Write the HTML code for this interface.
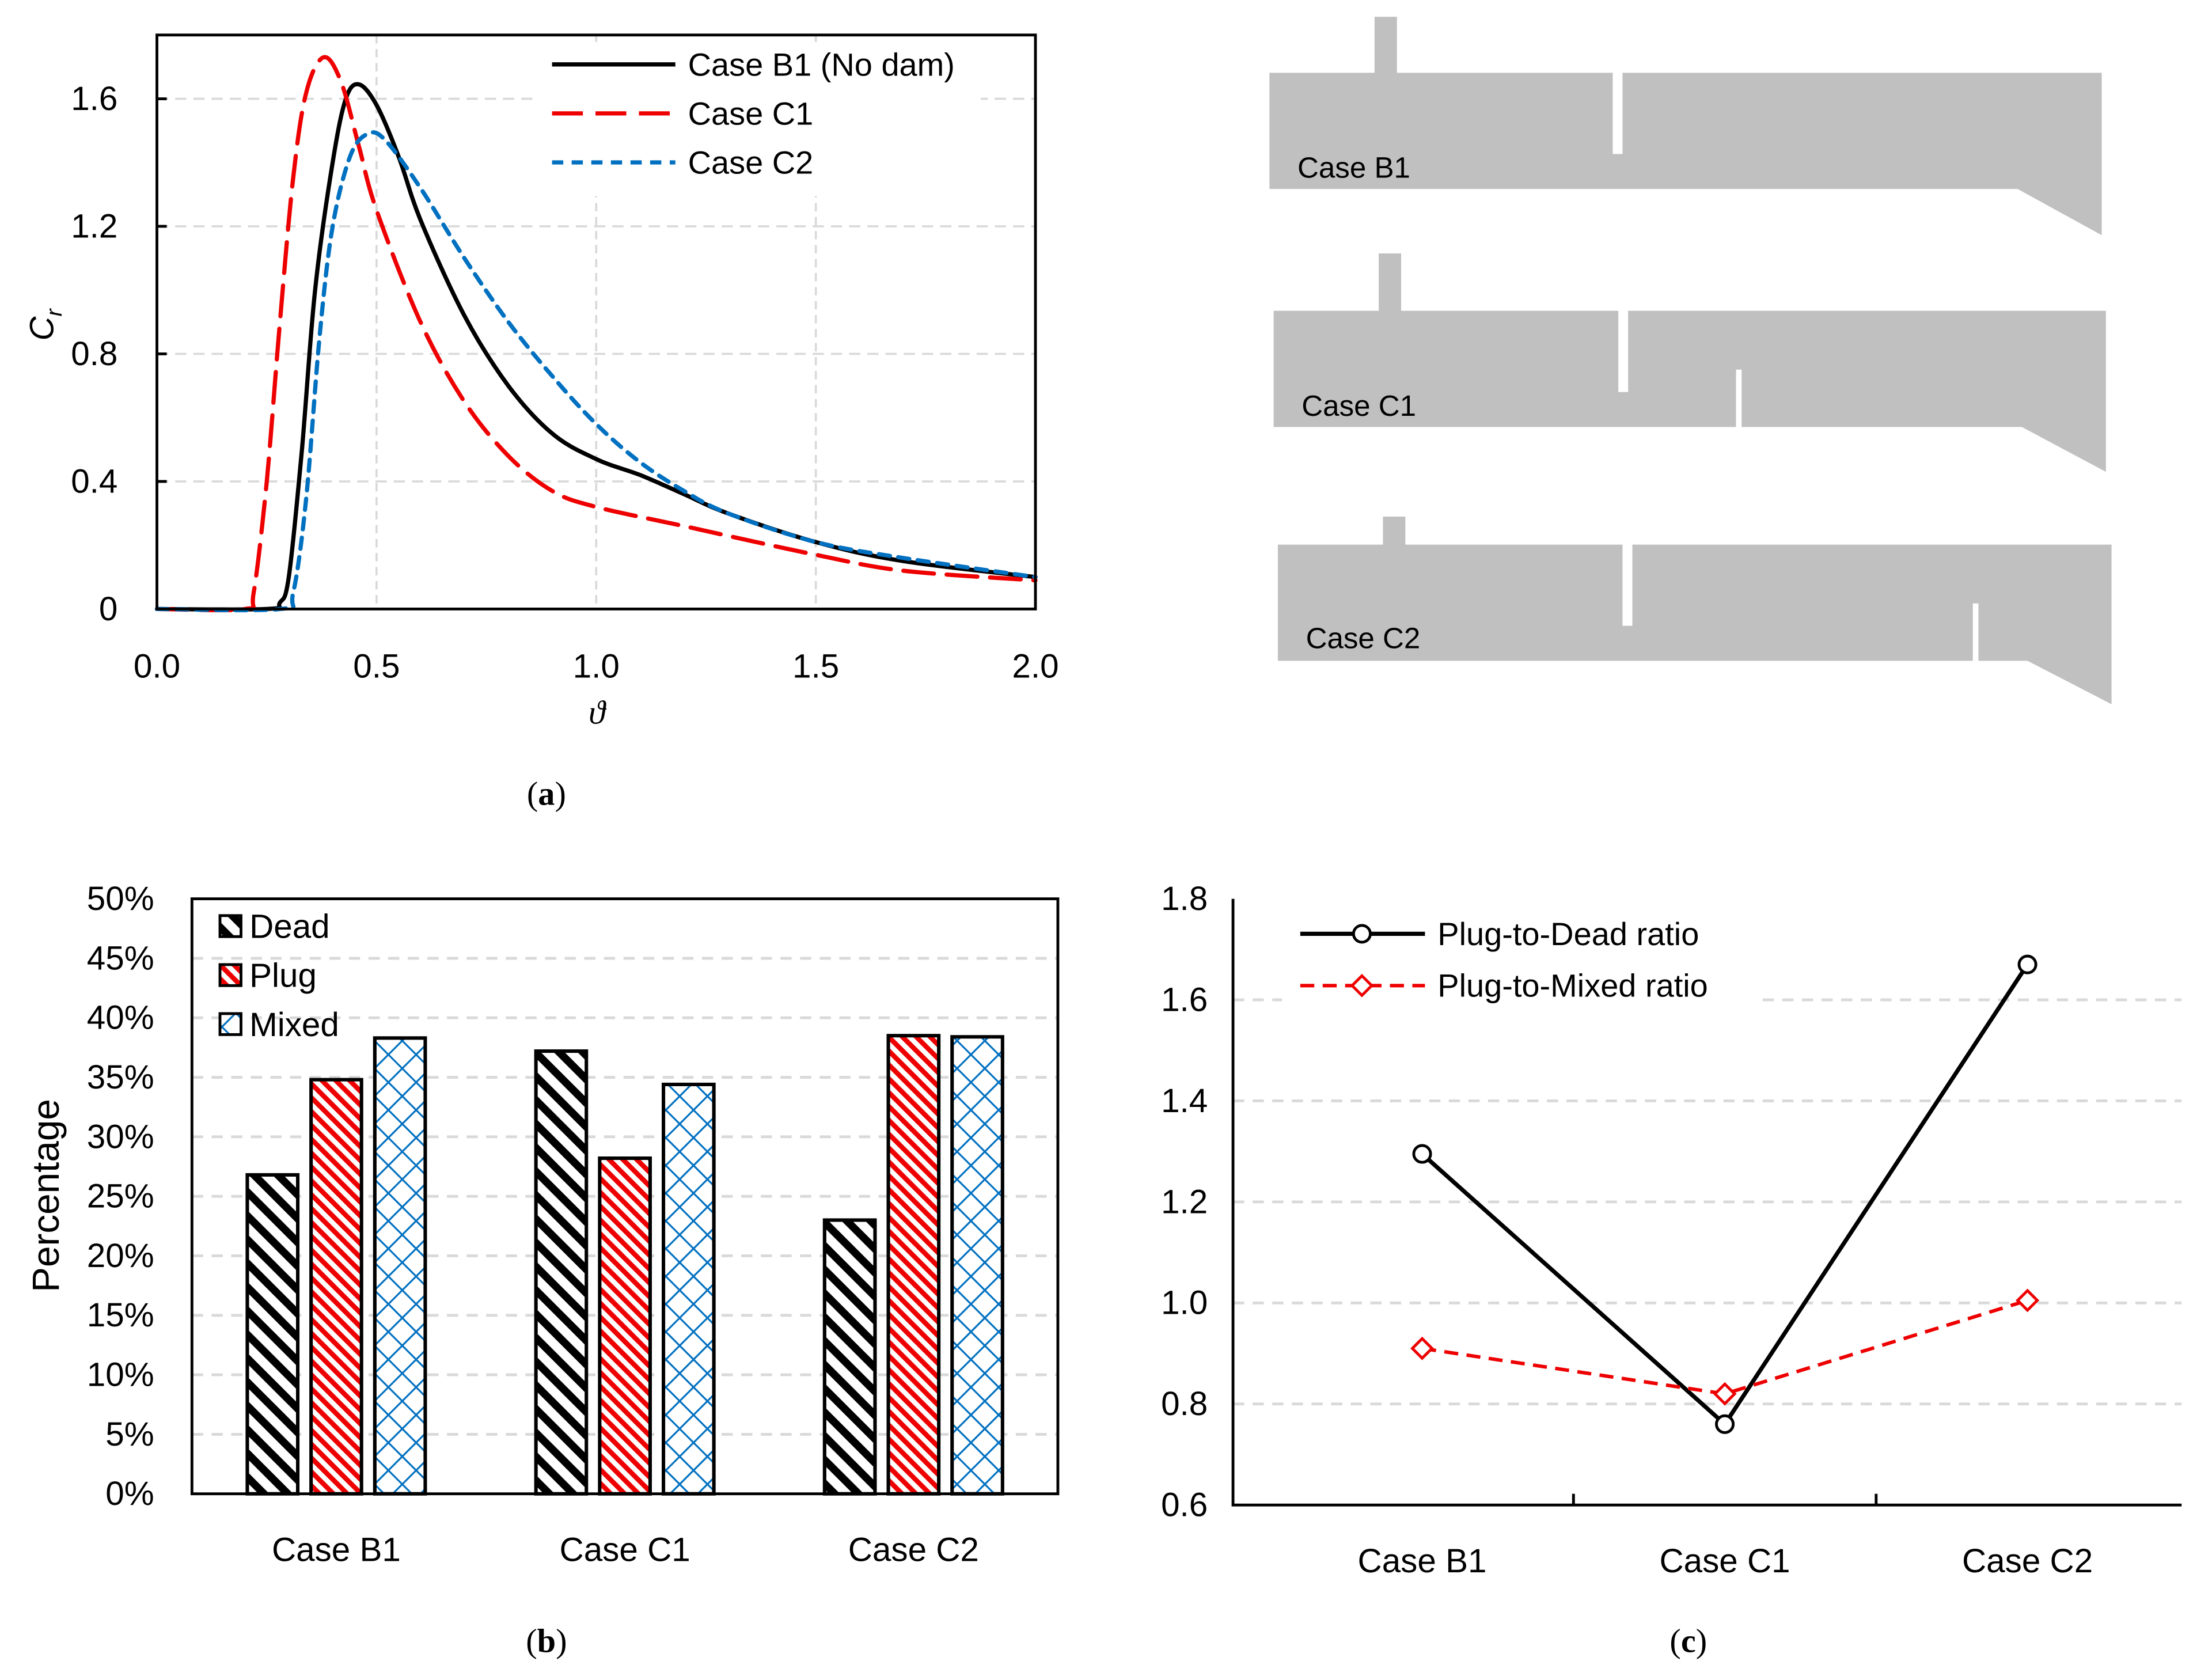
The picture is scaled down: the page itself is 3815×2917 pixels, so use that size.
<!DOCTYPE html>
<html><head><meta charset="utf-8"><style>
html,body{margin:0;padding:0;background:#fff}
svg{display:block}
text{font-family:"Liberation Sans",sans-serif;fill:#000}
.serif{font-family:"Liberation Serif",serif}
</style></head><body>
<svg id="s" width="3815" height="2917" viewBox="0 0 1568 1200" preserveAspectRatio="none">
<defs>
<pattern id="pDead" patternUnits="userSpaceOnUse" width="12" height="12" patternTransform="rotate(-45)"><rect width="12" height="12" fill="#fff"/><rect width="5.5" height="12" fill="#000"/></pattern>
<pattern id="pPlug" patternUnits="userSpaceOnUse" width="7" height="7" patternTransform="rotate(-45)"><rect width="7" height="7" fill="#fff"/><rect width="3.5" height="7" fill="#e00"/></pattern>
<pattern id="pMixed" patternUnits="userSpaceOnUse" width="14" height="14" patternTransform="rotate(45)"><rect width="14" height="14" fill="#fff"/><rect width="1.3" height="14" fill="#0070c0"/><rect width="14" height="1.3" fill="#0070c0"/></pattern>
</defs>

<g id="pa"></g>
<text x="426" y="517" font-size="24" font-style="italic" class="serif" text-anchor="middle">ϑ</text>
<text transform="translate(38,232) rotate(-90)" font-size="24" font-style="italic" text-anchor="middle">C<tspan font-size="16" dy="6">r</tspan></text>
<text x="390" y="575" font-size="24" class="serif" text-anchor="middle">(<tspan font-weight="bold">a</tspan>)</text>

<g>
<polygon fill="#c0c0c0" points="906,52 981,52 981,12 997,12 997,52 1151,52 1151,110 1158,110 1158,52 1500,52 1500,168 1440,135 906,135"/>
<text x="926" y="127" font-size="21" fill="#333">Case B1</text></g>
<g>
<polygon fill="#c0c0c0" points="909,222 984,222 984,181 1000,181 1000,222 1155,222 1155,280 1162,280 1162,222 1503,222 1503,337 1443,305 1243,305 1243,264 1239,264 1239,305 909,305"/>
<text x="929" y="297" font-size="21" fill="#333">Case C1</text></g>
<g>
<polygon fill="#c0c0c0" points="912,389 987,389 987,369 1003,369 1003,389 1158,389 1158,447 1165,447 1165,389 1507,389 1507,503 1447,472 1412,472 1412,431 1408,431 1408,472 912,472"/>
<text x="932" y="463" font-size="21" fill="#333">Case C2</text></g>

<g id="pb"></g>
<text transform="translate(42,854) rotate(-90)" font-size="27" text-anchor="middle">Percentage</text>
<text x="390" y="1180" font-size="24" class="serif" text-anchor="middle">(<tspan font-weight="bold">b</tspan>)</text>

<g id="pc"></g>
<text x="1205" y="1180" font-size="24" class="serif" text-anchor="middle">(<tspan font-weight="bold">c</tspan>)</text>
</svg>
<script>
const b1Theta=[0,0.25,0.28,0.3,0.33,0.36,0.4,0.43,0.46,0.5,0.55,0.6,0.7,0.8,0.9,1.0,1.1,1.2,1.3,1.5,1.7,2.0];
const b1Cr=[0,0,0.02,0.1,0.5,1.0,1.4,1.6,1.645,1.58,1.42,1.22,0.92,0.7,0.55,0.47,0.42,0.36,0.3,0.21,0.15,0.1];
const c1Theta=[0,0.2,0.22,0.25,0.28,0.31,0.34,0.38,0.42,0.46,0.5,0.6,0.7,0.8,0.9,1.0,1.2,1.5,1.7,2.0];
const c1Cr=[0,0,0.05,0.4,0.9,1.35,1.62,1.73,1.65,1.45,1.25,0.9,0.65,0.48,0.37,0.32,0.26,0.17,0.12,0.09];
const c2Theta=[0,0.28,0.31,0.34,0.37,0.4,0.44,0.48,0.52,0.6,0.7,0.8,0.9,1.0,1.1,1.2,1.3,1.5,1.7,2.0];
const c2Cr=[0,0,0.05,0.35,0.85,1.2,1.42,1.49,1.47,1.32,1.1,0.9,0.73,0.58,0.46,0.37,0.3,0.21,0.16,0.1];
const aXTicks=[0,0.5,1.0,1.5,2.0];
const aXLabels=["0.0","0.5","1.0","1.5","2.0"];
const aYTicks=[0,0.4,0.8,1.2,1.6];
const aYLabels=["0","0.4","0.8","1.2","1.6"];
const aSeriesNames=["Case B1 (No dam)","Case C1","Case C2"];
const bCategories=["Case B1","Case C1","Case C2"];
const deadPct=[26.8,37.2,23.0];
const plugPct=[34.8,28.2,38.5];
const mixedPct=[38.3,34.4,38.4];
const bYTicks=[0,5,10,15,20,25,30,35,40,45,50];
const cCategories=["Case B1","Case C1","Case C2"];
const plugDead=[1.295,0.76,1.67];
const plugMixed=[0.91,0.82,1.005];
const cYTicks=[0.6,0.8,1.0,1.2,1.4,1.6,1.8];

const NS="http://www.w3.org/2000/svg";
function mk(parent,tag,attrs,txt){const e=document.createElementNS(NS,tag);for(const k in attrs)e.setAttribute(k,attrs[k]);if(txt!==undefined)e.textContent=txt;parent.appendChild(e);return e;}
function smooth(pts){
 let d='M'+pts[0][0].toFixed(1)+','+pts[0][1].toFixed(1);
 for(let i=0;i<pts.length-1;i++){
  const p0=pts[Math.max(0,i-1)],p1=pts[i],p2=pts[i+1],p3=pts[Math.min(pts.length-1,i+2)];
  const c1=[p1[0]+(p2[0]-p0[0])/6,p1[1]+(p2[1]-p0[1])/6];
  const c2=[p2[0]-(p3[0]-p1[0])/6,p2[1]-(p3[1]-p1[1])/6];
  d+='C'+c1.map(v=>v.toFixed(1)).join(',')+' '+c2.map(v=>v.toFixed(1)).join(',')+' '+p2.map(v=>v.toFixed(1)).join(',');
 }
 return d;
}

(function(){
const g=document.getElementById('pa');
const L=112,R=739,T=25,B=435;
const xs=v=>L+v/2*(R-L), ys=v=>B-v/1.8*(B-T);
aXTicks.forEach((t,i)=>{
 if(t>0&&t<2){const l=mk(g,'line',{x1:xs(t),x2:xs(t),y1:T,y2:B,stroke:'#d9d9d9','stroke-width':1.5,'stroke-dasharray':'6 4'});
 
 }
 const tx=mk(g,'text',{x:xs(t),y:484,'font-size':24,'text-anchor':'middle'},aXLabels[i]);
 
 
});
aYTicks.forEach((t,i)=>{
 if(t>0){const l=mk(g,'line',{x1:L,x2:R,y1:ys(t),y2:ys(t),stroke:'#d9d9d9','stroke-width':1.5,'stroke-dasharray':'8 5'});
 
 
 const tk=mk(g,'line',{x1:L,x2:L+7,y1:ys(t),y2:ys(t),stroke:'#000','stroke-width':2});
 
 }
 const tx=mk(g,'text',{x:84,y:ys(t)+8,'font-size':24,'text-anchor':'end'},aYLabels[i]);
 
 
});
const series=[[b1Theta,b1Cr,'#000','none'],[c1Theta,c1Cr,'#e00','22 9'],[c2Theta,c2Cr,'#0070c0','8 6']];
const lb=mk(g,'rect',{x:380,y:30,width:320,height:110,fill:'#fff'});


series.forEach((s,i)=>{
 const pts=s[0].map((t,j)=>[xs(t),ys(s[1][j])]);
 const p=mk(g,'path',{d:smooth(pts),fill:'none',stroke:s[2],'stroke-width':3,'stroke-dasharray':s[3],'stroke-linecap':'round'});
 
 
 const ly=46+i*35;
 const ll=mk(g,'line',{x1:394,x2:482,y1:ly,y2:ly,stroke:s[2],'stroke-width':3,'stroke-dasharray':s[3]});
 
 
 const lt=mk(g,'text',{x:491,y:ly+8,'font-size':23},aSeriesNames[i]);
 
 
});
const f=mk(g,'rect',{x:L,y:T,width:R-L,height:B-T,fill:'none',stroke:'#000','stroke-width':2});


})();

(function(){
const g=document.getElementById('pb');
const L=137,R=755,T=642,B=1067;
const ys=v=>B-v/50*(B-T);
const cw=(R-L)/3;
bYTicks.forEach(t=>{
 if(t>0&&t<50){const l=mk(g,'line',{x1:L,x2:R,y1:ys(t),y2:ys(t),stroke:'#d9d9d9','stroke-width':2,'stroke-dasharray':'8 6'});
 
 }
 const tx=mk(g,'text',{x:110,y:ys(t)+8,'font-size':24,'text-anchor':'end'},t+'%');
 
 
});
const sets=[[deadPct,'url(#pDead)','dead'],[plugPct,'url(#pPlug)','plug'],[mixedPct,'url(#pMixed)','mixed']];
const bw=36;
bCategories.forEach((c,i)=>{
 const cx=L+cw*(i+0.5);
 sets.forEach((s,k)=>{
  const x=cx+(k-1)*45.5-bw/2;
  const r=mk(g,'rect',{x:x,y:ys(s[0][i]),width:bw,height:B-ys(s[0][i]),fill:s[1],stroke:'#000','stroke-width':2.5});
  
  
 });
 const tx=mk(g,'text',{x:cx,y:1115,'font-size':24,'text-anchor':'middle'},c);
 
 
});
const names=['Dead','Plug','Mixed'];
sets.forEach((s,k)=>{
 const y=654+k*35;
 const r=mk(g,'rect',{x:157,y:y,width:15,height:15,fill:s[1],stroke:'#000','stroke-width':2});
 
 
 const tx=mk(g,'text',{x:178,y:y+16,'font-size':24},names[k]);
 
 
});
const f=mk(g,'rect',{x:L,y:T,width:R-L,height:B-T,fill:'none',stroke:'#000','stroke-width':2});


})();

(function(){
const g=document.getElementById('pc');
const L=880,R=1557,T=642,B=1075;
const ys=v=>B-(v-0.6)/1.2*(B-T);
const cw=216;
const xs=i=>1015+cw*i;
cYTicks.forEach(t=>{
 if(t>0.6&&t<1.8){const l=mk(g,'line',{x1:L,x2:R,y1:ys(t),y2:ys(t),stroke:'#d9d9d9','stroke-width':2,'stroke-dasharray':'8 6'});
 
 }
 const tx=mk(g,'text',{x:862,y:ys(t)+8,'font-size':24,'text-anchor':'end'},t.toFixed(1));
 
 
});
const lb=mk(g,'rect',{x:915,y:650,width:340,height:70,fill:'#fff'});


[0,1].forEach(k=>{const x=xs(k)+cw/2;const t=mk(g,'line',{x1:x,x2:x,y1:B,y2:B-8,stroke:'#000','stroke-width':2});
 
 });
cCategories.forEach((c,i)=>{
 const tx=mk(g,'text',{x:xs(i),y:1123,'font-size':24,'text-anchor':'middle'},c);
 
 
});
const p1=mk(g,'polyline',{points:plugDead.map((v,i)=>xs(i)+','+ys(v)).join(' '),fill:'none',stroke:'#000','stroke-width':3});


const p2=mk(g,'polyline',{points:plugMixed.map((v,i)=>xs(i)+','+ys(v)).join(' '),fill:'none',stroke:'#e00','stroke-width':2.5,'stroke-dasharray':'10 6'});


plugDead.forEach((v,i)=>{
 const c=mk(g,'circle',{cx:xs(i),cy:ys(v),r:6,fill:'#fff',stroke:'#000','stroke-width':2});
 
 
});
plugMixed.forEach((v,i)=>{
 const x=xs(i),y=ys(v);
 const d=mk(g,'polygon',{points:`${x},${y-7} ${x+7},${y} ${x},${y+7} ${x-7},${y}`,fill:'#fff',stroke:'#e00','stroke-width':2});
 
 
});
const l1=mk(g,'line',{x1:928,x2:1017,y1:667,y2:667,stroke:'#000','stroke-width':3});


const m1=mk(g,'circle',{cx:972,cy:667,r:6,fill:'#fff',stroke:'#000','stroke-width':2});


const t1=mk(g,'text',{x:1026,y:675,'font-size':23},'Plug-to-Dead ratio');


const l2=mk(g,'line',{x1:928,x2:1017,y1:704,y2:704,stroke:'#e00','stroke-width':2.5,'stroke-dasharray':'10 6'});


const m2=mk(g,'polygon',{points:'972,697 979,704 972,711 965,704',fill:'#fff',stroke:'#e00','stroke-width':2});


const t2=mk(g,'text',{x:1026,y:712,'font-size':23},'Plug-to-Mixed ratio');


const ax=mk(g,'path',{d:`M${L},${T}V${B}H${R}`,fill:'none',stroke:'#000','stroke-width':2});


})();
</script>
</body></html>
